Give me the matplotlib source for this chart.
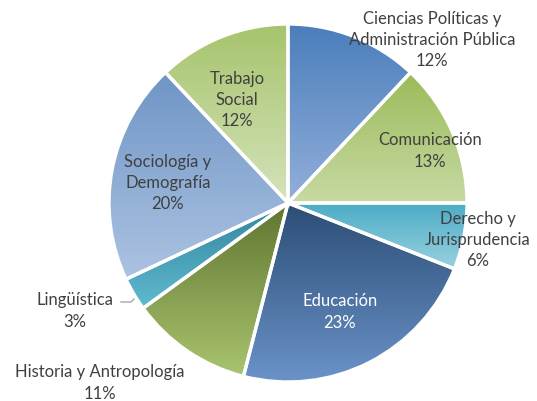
import numpy as np
import matplotlib.pyplot as plt
from matplotlib.colors import LinearSegmentedColormap

plt.rcParams['font.family'] = ['Lato', 'DejaVu Sans']

categories = ['Ciencias Políticas y\nAdministración Pública', 'Comunicación',
              'Derecho y\nJurisprudencia', 'Educación', 'Historia y Antropología',
              'Lingüística', 'Sociología y\nDemografía', 'Trabajo\nSocial']
shares = [12, 13, 6, 23, 11, 3, 20, 12]

# top colour, bottom colour of each slice gradient
top_colors = ['#4a7ebb', '#9bbb59', '#4bacc6', '#2c4d75', '#5f7530', '#31859c', '#6f95c6', '#a6c46c']
bottom_colors = ['#93afdb', '#c7daa3', '#9ad1e0', '#6a93c9', '#a9c46f', '#5fbad0', '#acc3e2', '#d5e3bb']

# label text positions in pixels (x, y from top)
label_pos = [(432, 40), (430, 151), (478, 240), (340, 312), (100, 383),
             (75, 311), (168, 183), (237, 100)]
label_color = ['#404040'] * 8
label_color[3] = 'white'

W, H = 537, 402
fig = plt.figure(figsize=(W / 100, H / 100), dpi=100)
ax = fig.add_axes([0, 0, 1, 1])

cx, cy, r = 288, H - 204, 179
wedges, _ = ax.pie(shares, startangle=90, counterclock=False, center=(cx, cy),
                   radius=r, frame=True,
                   wedgeprops=dict(facecolor='none', edgecolor='white', linewidth=2.4, zorder=3))
ax.set_xlim(0, W)
ax.set_ylim(0, H)
ax.set_aspect('equal')
ax.axis('off')

grad = np.linspace(0, 1, 256).reshape(-1, 1)
for w, c0, c1 in zip(wedges, top_colors, bottom_colors):
    ext = w.get_path().get_extents(w.get_patch_transform())
    cmap = LinearSegmentedColormap.from_list('g', [c0, c1])
    im = ax.imshow(grad, cmap=cmap, aspect='auto', origin='upper',
                   extent=(ext.x0, ext.x1, ext.y0, ext.y1), zorder=1,
                   interpolation='bilinear')
    im.set_clip_path(w)

for lab, s, (x, y), col in zip(categories, shares, label_pos, label_color):
    ax.text(x, H - y, f'{lab}\n{s}%', ha='center', va='center', fontsize=12,
            color=col, linespacing=1.42, zorder=4)

# leader line for Lingüística
ax.plot([121, 131, 134], [H - 303, H - 303, H - 300], color='#a6a6a6', lw=1, zorder=4)

fig.savefig('out.png', dpi=100)
